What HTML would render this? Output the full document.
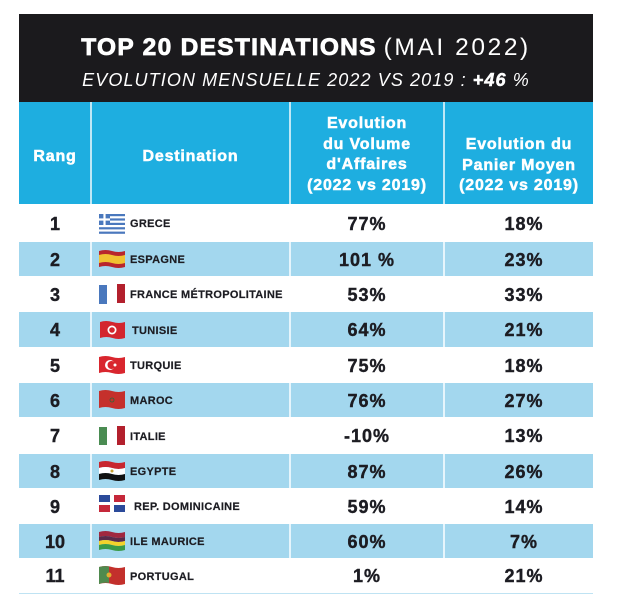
<!DOCTYPE html>
<html><head><meta charset="utf-8">
<style>
html,body{margin:0;padding:0;background:#fff;}
body{width:620px;height:610px;position:relative;overflow:hidden;font-family:"Liberation Sans",Arial,sans-serif;}
.blk{position:absolute;left:19px;top:14px;width:574px;height:88px;background:#1b1a1d;}
.t1{position:absolute;left:0;width:574px;top:20px;text-align:center;color:#fff;font-size:24.5px;line-height:28px;white-space:nowrap;}
.t1 b{letter-spacing:1.3px;-webkit-text-stroke:0.8px #fff;}
.t1 span{letter-spacing:2.6px;font-weight:normal;}
.t2{position:absolute;left:0;width:574px;top:55px;text-align:center;color:#fff;font-size:18px;line-height:22px;font-style:italic;letter-spacing:1.1px;white-space:nowrap;}
.t2 b{-webkit-text-stroke:0.5px #fff;}
.hdr{position:absolute;left:19px;top:102px;width:574px;height:102px;background:#1eaee0;}
.vl{position:absolute;top:0;width:2px;height:100%;background:#bfe8f6;}
.ht{position:absolute;color:#fff;font-weight:bold;font-size:16px;letter-spacing:0.8px;text-align:center;line-height:20.5px;-webkit-text-stroke:0.5px #fff;}
.row{position:absolute;left:19px;width:574px;}
.row.b{background:#a3d7ee;}
.row .d{position:absolute;top:0;width:2px;height:100%;background:#e6f5fc;}
.rk{position:absolute;left:0;width:72px;top:1px;height:100%;display:flex;align-items:center;justify-content:center;font-weight:bold;font-size:18px;color:#1c1c22;-webkit-text-stroke:0.4px #1c1c22;}
.fl{position:absolute;left:80px;}
.nm{position:absolute;left:111px;top:1px;height:100%;display:flex;align-items:center;font-weight:bold;font-size:11px;letter-spacing:0.3px;color:#1c1c22;white-space:nowrap;-webkit-text-stroke:0.2px #1c1c22;}
.v1{position:absolute;left:271px;width:154px;top:1px;height:100%;display:flex;align-items:center;justify-content:center;font-weight:bold;font-size:18px;letter-spacing:1px;color:#1c1c22;-webkit-text-stroke:0.4px #1c1c22;}
.v2{position:absolute;left:430px;width:150px;top:1px;height:100%;display:flex;align-items:center;justify-content:center;font-weight:bold;font-size:18px;letter-spacing:1px;color:#1c1c22;-webkit-text-stroke:0.4px #1c1c22;}
.bot{position:absolute;left:19px;top:593px;width:574px;height:1px;background:#bfe3f3;}
</style></head>
<body>
<div class="blk">
  <div class="t1"><b>TOP 20 DESTINATIONS</b> <span>(MAI 2022)</span></div>
  <div class="t2">EVOLUTION MENSUELLE 2022 VS 2019 : <b>+46</b> %</div>
</div>
<div class="hdr">
  <div class="vl" style="left:71px"></div>
  <div class="vl" style="left:270px"></div>
  <div class="vl" style="left:424px"></div>
  <div class="ht" style="left:0;width:72px;top:45px;">Rang</div>
  <div class="ht" style="left:72px;width:199px;top:45px;">Destination</div>
  <div class="ht" style="left:272px;width:152px;top:12px;">Evolution<br>du Volume<br>d'Affaires<br>(2022 vs 2019)</div>
  <div class="ht" style="left:426px;width:148px;top:33px;">Evolution du<br>Panier Moyen<br>(2022 vs 2019)</div>
</div>

<!-- Row 1 -->
<div class="row" style="top:204px;height:38px;">
  <div class="rk">1</div>
  <svg class="fl" style="top:10px" width="26" height="20" viewBox="0 0 26 20">
    <rect x="0" y="0" width="26" height="20" fill="#fff"/>
    <g fill="#4a78bd">
      <rect x="0" y="0" width="26" height="2.2"/>
      <rect x="0" y="4.4" width="26" height="2.2"/>
      <rect x="0" y="8.8" width="26" height="2.2"/>
      <rect x="0" y="13.2" width="26" height="2.2"/>
      <rect x="0" y="17.6" width="26" height="2.2"/>
      <rect x="0" y="0" width="11" height="11"/>
    </g>
    <rect x="4.4" y="0" width="2.2" height="11" fill="#fff"/>
    <rect x="0" y="4.4" width="11" height="2.2" fill="#fff"/>
  </svg>
  <div class="nm">GRECE</div>
  <div class="v1">77%</div><div class="v2">18%</div>
</div>
<!-- Row 2 -->
<div class="row b" style="top:242px;height:34px;">
  <div class="d" style="left:71px"></div><div class="d" style="left:270px"></div><div class="d" style="left:424px"></div>
  <div class="rk">2</div>
  <svg class="fl" style="top:7px" width="26" height="20" viewBox="0 0 26 20">
    <path d="M0 2 Q6.5 0 13 2 T26 2 V18 Q19.5 20 13 18 T0 18Z" fill="#b8262d"/>
    <path d="M0 6 Q6.5 4 13 6 T26 6 V14 Q19.5 16 13 14 T0 14Z" fill="#f1c232"/>
  </svg>
  <div class="nm">ESPAGNE</div>
  <div class="v1">101 %</div><div class="v2">23%</div>
</div>
<!-- Row 3 -->
<div class="row" style="top:276px;height:36px;">
  <div class="rk">3</div>
  <svg class="fl" style="top:7px" width="26" height="22" viewBox="0 0 26 22">
    <rect x="0" y="2" width="8" height="19" fill="#4a78bd"/>
    <rect x="18" y="1" width="8" height="19" fill="#b3202d"/>
  </svg>
  <div class="nm">FRANCE MÉTROPOLITAINE</div>
  <div class="v1">53%</div><div class="v2">33%</div>
</div>
<!-- Row 4 -->
<div class="row b" style="top:312px;height:35px;">
  <div class="d" style="left:71px"></div><div class="d" style="left:270px"></div><div class="d" style="left:424px"></div>
  <div class="rk">4</div>
  <svg class="fl" style="top:8px" width="26" height="20" viewBox="0 0 26 20">
    <path d="M1 2 Q7 0 13.5 2 T26 2 V18 Q19.5 20 13.5 18 T1 18Z" fill="#d3252e"/>
    <circle cx="13" cy="10" r="4.5" fill="#fff"/>
    <circle cx="13" cy="10" r="2.8" fill="#d3252e"/>
  </svg>
  <div class="nm" style="left:113px">TUNISIE</div>
  <div class="v1">64%</div><div class="v2">21%</div>
</div>
<!-- Row 5 -->
<div class="row" style="top:347px;height:36px;">
  <div class="rk">5</div>
  <svg class="fl" style="top:8px" width="26" height="20" viewBox="0 0 26 20">
    <path d="M0 2 Q6.5 0 13 2 T26 2 V18 Q19.5 20 13 18 T0 18Z" fill="#d9262e"/>
    <circle cx="11" cy="10" r="5" fill="#fff"/>
    <circle cx="12.5" cy="10" r="4" fill="#d9262e"/>
    <circle cx="16" cy="10" r="1.5" fill="#fff"/>
  </svg>
  <div class="nm">TURQUIE</div>
  <div class="v1">75%</div><div class="v2">18%</div>
</div>
<!-- Row 6 -->
<div class="row b" style="top:383px;height:34px;">
  <div class="d" style="left:71px"></div><div class="d" style="left:270px"></div><div class="d" style="left:424px"></div>
  <div class="rk">6</div>
  <svg class="fl" style="top:6px" width="26" height="22" viewBox="0 0 26 22">
    <path d="M0 2 Q6.5 0 13 2 T26 2 V19 Q19.5 21 13 19 T0 19Z" fill="#c5302c"/>
    <circle cx="13" cy="11" r="2" fill="none" stroke="#2a6a3a" stroke-width="0.8"/>
  </svg>
  <div class="nm">MAROC</div>
  <div class="v1">76%</div><div class="v2">27%</div>
</div>
<!-- Row 7 -->
<div class="row" style="top:417px;height:37px;">
  <div class="rk">7</div>
  <svg class="fl" style="top:8px" width="26" height="22" viewBox="0 0 26 22">
    <rect x="0" y="2" width="8" height="18" fill="#4a8c52"/>
    <rect x="18" y="1" width="8" height="19" fill="#b3202d"/>
  </svg>
  <div class="nm">ITALIE</div>
  <div class="v1">-10%</div><div class="v2">13%</div>
</div>
<!-- Row 8 -->
<div class="row b" style="top:454px;height:34px;">
  <div class="d" style="left:71px"></div><div class="d" style="left:270px"></div><div class="d" style="left:424px"></div>
  <div class="rk">8</div>
  <svg class="fl" style="top:6px" width="26" height="22" viewBox="0 0 26 22">
    <path d="M0 2 Q6.5 0 13 2 T26 2 V8 Q19.5 10 13 8 T0 8Z" fill="#c8262e"/>
    <path d="M0 8 Q6.5 6 13 8 T26 8 V14 Q19.5 16 13 14 T0 14Z" fill="#fff"/>
    <path d="M0 14 Q6.5 12 13 14 T26 14 V20 Q19.5 22 13 20 T0 20Z" fill="#111"/>
    <circle cx="13" cy="11" r="1.5" fill="#c9a030"/>
  </svg>
  <div class="nm">EGYPTE</div>
  <div class="v1">87%</div><div class="v2">26%</div>
</div>
<!-- Row 9 -->
<div class="row" style="top:488px;height:36px;">
  <div class="rk">9</div>
  <svg class="fl" style="top:5px" width="26" height="22" viewBox="0 0 26 22">
    <rect x="0" y="2" width="26" height="17" fill="#fff"/>
    <rect x="0" y="2" width="11" height="7" fill="#2b4a9a"/>
    <rect x="15" y="2" width="11" height="7" fill="#c5283a"/>
    <rect x="0" y="12" width="11" height="7" fill="#c5283a"/>
    <rect x="15" y="12" width="11" height="7" fill="#2b4a9a"/>
  </svg>
  <div class="nm" style="left:115px">REP. DOMINICAINE</div>
  <div class="v1">59%</div><div class="v2">14%</div>
</div>
<!-- Row 10 -->
<div class="row b" style="top:524px;height:34px;">
  <div class="d" style="left:71px"></div><div class="d" style="left:270px"></div><div class="d" style="left:424px"></div>
  <div class="rk">10</div>
  <svg class="fl" style="top:6px" width="26" height="22" viewBox="0 0 26 22">
    <path d="M0 2 Q6.5 0 13 2 T26 2 V7 Q19.5 9 13 7 T0 7Z" fill="#a02840"/>
    <path d="M0 7 Q6.5 5 13 7 T26 7 V11 Q19.5 13 13 11 T0 11Z" fill="#5a2a4a"/>
    <path d="M0 11 Q6.5 9 13 11 T26 11 V15 Q19.5 17 13 15 T0 15Z" fill="#f2d22c"/>
    <path d="M0 15 Q6.5 13 13 15 T26 15 V20 Q19.5 22 13 20 T0 20Z" fill="#3a9a48"/>
  </svg>
  <div class="nm">ILE MAURICE</div>
  <div class="v1">60%</div><div class="v2">7%</div>
</div>
<!-- Row 11 -->
<div class="row" style="top:558px;height:35px;">
  <div class="rk">11</div>
  <svg class="fl" style="top:7px" width="26" height="22" viewBox="0 0 26 22">
    <path d="M0 2 Q6.5 0 13 2 T26 2 V19 Q19.5 21 13 19 T0 19Z" fill="#c3302c"/>
    <path d="M0 2 Q5 0.5 10 1.5 V18 Q5 17 0 19Z" fill="#4f8a4e"/>
    <circle cx="10" cy="10" r="2.5" fill="#e0b030"/>
  </svg>
  <div class="nm">PORTUGAL</div>
  <div class="v1">1%</div><div class="v2">21%</div>
</div>
<div class="bot"></div>
</body></html>
